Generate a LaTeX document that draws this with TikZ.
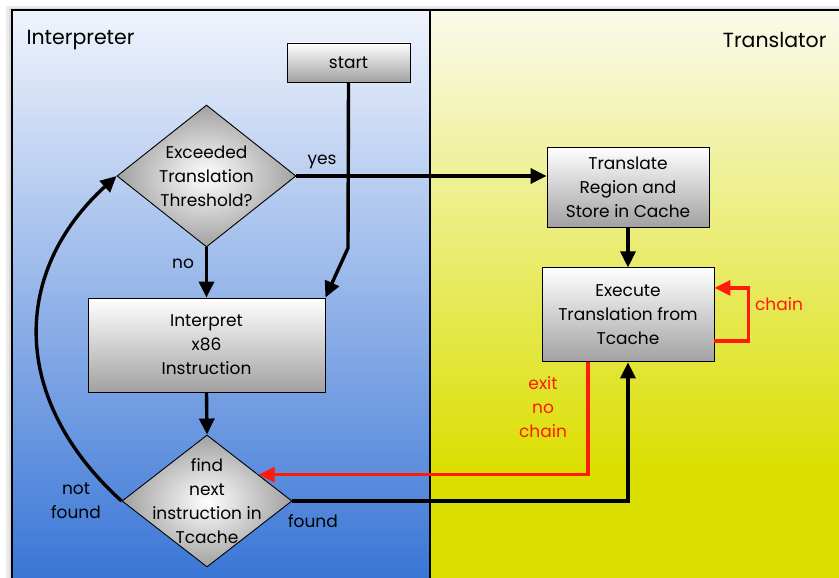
\documentclass[tikz,border=0pt]{standalone}
\usepackage{fontspec}
\setmainfont{Poppins}
\usetikzlibrary{arrows.meta,positioning,shapes.geometric}

\definecolor{interpTop}{HTML}{F0F4FC}
\definecolor{interpBot}{HTML}{3A76D6}
\definecolor{transTop}{HTML}{FAFAEC}
\definecolor{transMid}{HTML}{ECEE90}
\definecolor{transBot}{HTML}{DBDF00}
\definecolor{flowred}{HTML}{FF1A0A}

\begin{document}
\begin{tikzpicture}[x=1pt, y=-1pt, >={Triangle[length=16pt,width=15pt]},
    font=\fontsize{17}{24}\selectfont,
    box/.style={draw, line width=0.9pt, top color=white, bottom color=black!37,
      align=center, inner sep=0pt},
    test/.style={draw, diamond, line width=0.9pt, inner color=white,
      outer color=black!37, inner sep=0pt},
    flow/.style={->, line width=3.4pt},
    redflow/.style={flow, flowred},
    lbl/.style={inner sep=1pt, align=center},
    redlbl/.style={lbl, text=flowred},
    pane/.style={font=\fontsize{20.5}{24}\selectfont}]
  \useasboundingbox (0,0) rectangle (839,578);

  % the two panes
  \fill[black!8] (6,6) rectangle (839,578);
  \fill[black!14] (9,8) rectangle (839,578);
  \shade[top color=interpTop, bottom color=interpBot] (12,10) rectangle (430,578);
  \shade[top color=transTop, middle color=transMid, bottom color=transBot]
    (430,10) rectangle (839,470);
  \fill[transBot] (430,469.5) rectangle (839,578);
  \draw[line width=1.2pt] (845,10) -- (12,10) -- (12,585);
  \draw[line width=1.2pt] (430,10) -- (430,578);
  \node[pane, anchor=west] (interpreter) at (23,40) {Interpreter};
  \node[pane, anchor=east] (translator) at (830,40) {Translator};

  % interpreter side
  \node[box, minimum width=123pt, minimum height=39pt] (start) at (348.5,62.5) {start};
  \node[test, minimum width=179pt, minimum height=142pt] (thresh) at (206.5,176) {};
  \node[lbl] (threshtext) at (thresh) {Exceeded\\Translation\\Threshold?};
  \node[box, minimum width=237pt, minimum height=94pt] (interp) at (206.5,345)
    {Interpret\\x86\\Instruction};
  \node[test, minimum width=170pt, minimum height=132pt] (find) at (207,501) {};
  \node[lbl] (findtext) at (find) {find\\next\\instruction in\\Tcache};

  % translator side
  \node[box, minimum width=162pt, minimum height=80pt] (translate) at (628,187)
    {Translate\\Region and\\Store in Cache};
  \node[box, minimum width=172pt, minimum height=94pt, below=40pt of translate] (exec)
    {Execute\\Translation from\\Tcache};

  % control flow
  \coordinate (bend) at (348,248);
  \draw[flow] (start.south) -- (bend) -- (interp.north east);
  \draw[flow] (thresh.east) -- (thresh.east -| translate.west);
  \draw[flow] (thresh.south) -- (interp.north);
  \draw[flow] (interp.south) -- (find.north);
  \draw[flow] (find.west) .. controls (10,400) and (11,272) .. (thresh.west);
  \draw[flow] (find.east) -| (exec.south);
  \draw[flow] (translate.south) -- (exec.north);
  \draw[redflow] ([xshift=-40pt]exec.south) |- (find.27);
  \draw[redflow] ([yshift=-26pt]exec.east) -- ++(34,0) |- ([yshift=27pt]exec.east);

  % branch labels
  \node[lbl] (yes) at (322,162) {yes};
  \node[lbl] (no) at (183,264) {no};
  \node[lbl] (notfound) at (76,501) {not\\found};
  \node[lbl] (found) at (313,521) {found};
  \node[redlbl] (exitnochain) at (543,407) {exit\\no\\chain};
  \node[redlbl] (chain) at (779,304) {chain};
\end{tikzpicture}
\end{document}
